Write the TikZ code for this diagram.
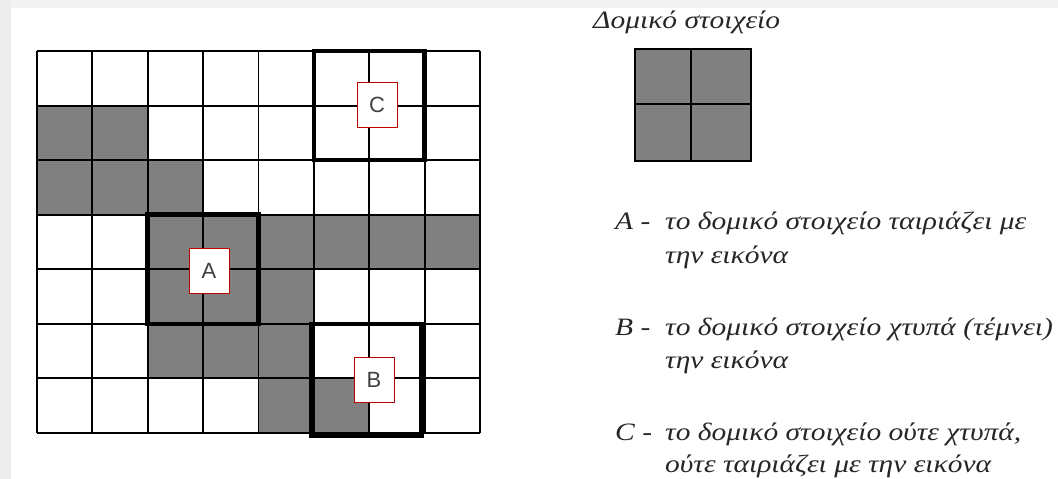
\documentclass[tikz,border=0pt]{standalone}
\usepackage{fontspec}
\setmainfont{Liberation Serif}
\newfontfamily\lblfont{Liberation Sans}
\newfontfamily\txtfont[FakeStretch=1.18]{Liberation Serif}
\begin{document}
\begin{tikzpicture}[x=1pt,y=-1pt,
  thin grid/.style={line width=1.9pt, black},
  thickbox/.style={line width=4.6pt, black},
  lbl/.style={draw=red!75!black, line width=0.9pt, fill=white, minimum width=40pt, minimum height=45pt, inner sep=0pt, font=\lblfont\fontsize{22}{22}\selectfont, text=black!75},
  legend/.style={anchor=base west, inner sep=0pt, font=\txtfont\itshape\fontsize{25}{25}\selectfont, text=black!85},
  title/.style={anchor=base west, inner sep=0pt, font=\txtfont\itshape\fontsize{25}{25}\selectfont, text=black!85}
]
\useasboundingbox (0,0) rectangle (1058,479);
\fill[white] (0,0) rectangle (1058,479);
\fill[black!7] (0,0) rectangle (11,479);
\fill[black!5] (11,0) rectangle (1058,8);

% grid geometry
\def\gx{37}\def\gy{51}\def\cw{55.375}\def\ch{54.571}
% gray cells: (col,row)
\foreach \c/\r in {0/1,1/1,0/2,1/2,2/2,2/3,3/3,4/3,5/3,6/3,7/3,2/4,3/4,4/4,2/5,3/5,4/5,4/6,5/6}{
  \fill[black!50] ({\gx+\c*\cw},{\gy+\r*\ch}) rectangle ++(\cw,\ch);
}
% grid lines
\foreach \i in {0,...,8}{
  \draw[thin grid] ({\gx+\i*\cw},\gy) -- ++(0,{7*\ch});
}
\foreach \j in {0,...,7}{
  \draw[thin grid] (\gx,{\gy+\j*\ch}) -- ++({8*\cw},0);
}
% thick boxes
\draw[thickbox] ({\gx+5*\cw},{\gy+0*\ch}) rectangle ++({2*\cw},{2*\ch});
\draw[thickbox] ({\gx+2*\cw},{\gy+3*\ch}) rectangle ++({2*\cw},{2*\ch});
\draw[thickbox] ({\gx+5*\cw-3},{\gy+5*\ch}) rectangle ++({2*\cw},{2*\ch+3});

% labels
\node[lbl] (labC) at (377,105) {C};
\node[lbl] (labA) at (209,271) {A};
\node[lbl] (labB) at (374,380) {B};

% structuring element
\node[title] (ttl) at (593,28) {Δομικό στοιχείο};
\fill[black!50] (635,49) rectangle (751,161);
\draw[line width=1.9pt] (635,49) rectangle (751,161);
\draw[line width=1.9pt] (691,49) -- (691,161);
\draw[line width=1.9pt] (635,104) -- (751,104);

% legend
\node[legend] (la) at (615,229) {A -};
\node[legend] (ta1) at (665,229) {το δομικό στοιχείο ταιριάζει με};
\node[legend] (ta2) at (665,263) {την εικόνα};
\node[legend] (lb) at (615,335) {B -};
\node[legend] (tb1) at (665,335) {το δομικό στοιχείο χτυπά (τέμνει)};
\node[legend] (tb2) at (665,368) {την εικόνα};
\node[legend] (lc) at (615,440) {C -};
\node[legend] (tc1) at (665,440) {το δομικό στοιχείο ούτε χτυπά,};
\node[legend] (tc2) at (665,472) {ούτε ταιριάζει με την εικόνα};
\end{tikzpicture}
\end{document}
